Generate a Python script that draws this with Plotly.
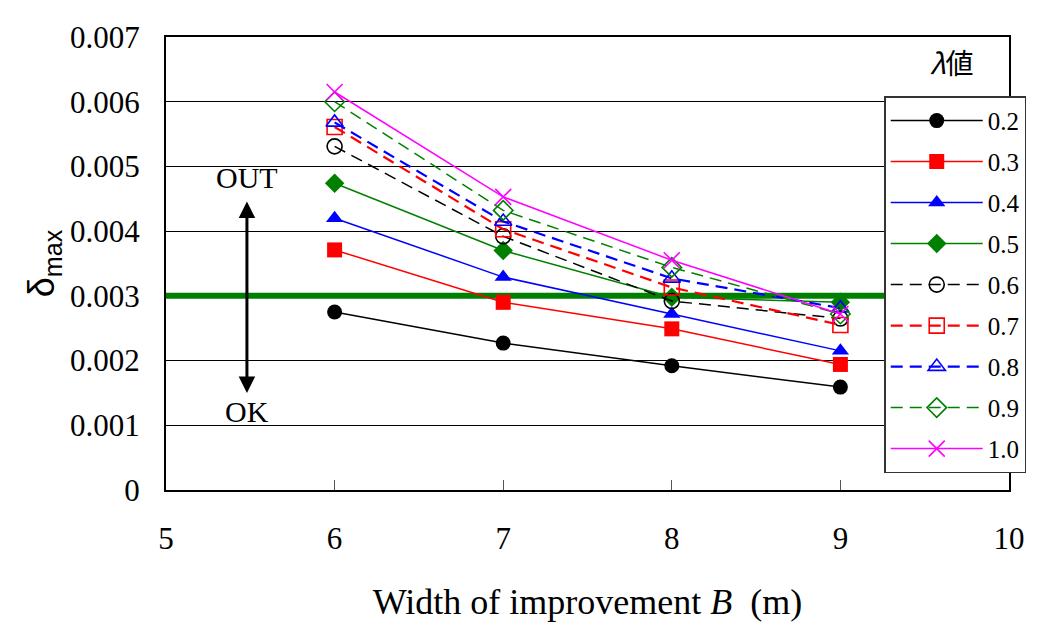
import plotly.graph_objects as go

B = [6, 7, 8, 9]
lam_labels = ["0.2", "0.3", "0.4", "0.5", "0.6", "0.7", "0.8", "0.9", "1.0"]
d02 = [0.00275, 0.00227, 0.00192, 0.00159]
d03 = [0.00371, 0.00290, 0.00249, 0.00194]
d04 = [0.00420, 0.00329, 0.00272, 0.00215]
d05 = [0.00474, 0.00370, 0.00298, 0.00290]
d06 = [0.00531, 0.00392, 0.00292, 0.00265]
d07 = [0.00561, 0.00403, 0.00313, 0.00255]
d08 = [0.00568, 0.00415, 0.00327, 0.00281]
d09 = [0.00600, 0.00432, 0.00344, 0.00272]
d10 = [0.00615, 0.00453, 0.00355, 0.00272]
series = [d02, d03, d04, d05, d06, d07, d08, d09, d10]
limit_value = 0.003

colors = ["#000000", "#FF0000", "#0000FF", "#008000", "#000000", "#FF0000", "#0000FF", "#008000", "#FF00FF"]
symbols = ["circle", "square", "triangle-up", "diamond", "circle-open", "square-open",
           "triangle-up-open", "diamond-open", "x-thin-open"]
dashes = ["solid"] * 4 + ["12px,7px"] * 4 + ["solid"]
widths = [1.5, 1.5, 1.5, 1.5, 1.5, 2.2, 2.2, 1.5, 1.5]

fig = go.Figure()

# threshold line
fig.add_trace(go.Scatter(x=[5, 10], y=[limit_value, limit_value], mode="lines",
                         line=dict(color="#008000", width=6), showlegend=False, hoverinfo="skip"))

for i, (lab, ys) in enumerate(zip(lam_labels, series)):
    sym = symbols[i]
    is_open = "open" in sym
    size = 16 if "x" in sym else 15
    fig.add_trace(go.Scatter(
        x=B, y=ys, mode="lines+markers", name=lab, legendgroup=lab,
        line=dict(color=colors[i], width=widths[i], dash=dashes[i]),
        marker=dict(symbol=sym, size=size, color=colors[i],
                    line=dict(color=colors[i], width=1.6 if is_open else 0)),
    ))

fig.update_layout(
    width=1030, height=619,
    margin=dict(l=158, r=25, t=18, b=136),
    plot_bgcolor="white", paper_bgcolor="white",
    font=dict(family="Liberation Serif", size=26, color="black"),
    showlegend=True,
    legend=dict(x=0.852, y=0.869, xanchor="left", yanchor="top",
                bgcolor="white", bordercolor="#333333", borderwidth=1.5,
                font=dict(family="Liberation Serif", size=25),
                traceorder="grouped", tracegroupgap=5.5, itemwidth=92),
    xaxis=dict(range=[5, 10], tickvals=[5, 6, 7, 8, 9, 10], showgrid=False,
               showline=True, linecolor="black", linewidth=2, mirror=True,
               ticks="inside", ticklen=10, tickcolor="#555555",
               tickfont=dict(family="Liberation Serif", size=31), ticklabelstandoff=20,
               title=dict(text="Width of improvement <i>B</i>  (m)",
                          font=dict(family="Liberation Serif", size=36), standoff=34),
               zeroline=False),
    yaxis=dict(range=[0, 0.007], tickvals=[0, 0.001, 0.002, 0.003, 0.004, 0.005, 0.006, 0.007],
               ticktext=["0", "0.001", "0.002", "0.003", "0.004", "0.005", "0.006", "0.007"],
               showgrid=True, gridcolor="black", gridwidth=1,
               showline=True, linecolor="black", linewidth=2, mirror=True,
               ticks="", tickfont=dict(family="Liberation Serif", size=31), ticklabelstandoff=18,
               title=dict(text="δ<sub>max</sub>", font=dict(family="Liberation Sans", size=36), standoff=4),
               zeroline=False),
)

fig.add_annotation(x=5.48, y=0.00150, ax=5.48, ay=0.00448, xref="x", yref="y", axref="x", ayref="y",
                   text="", showarrow=True, arrowhead=2, startarrowhead=2, arrowside="end+start",
                   arrowwidth=3, arrowsize=1.1, startarrowsize=1.1, arrowcolor="black")
fig.add_annotation(x=5.48, y=0.00483, xref="x", yref="y", text="OUT", showarrow=False,
                   xanchor="center", yanchor="middle",
                   font=dict(family="Liberation Serif", size=30))
fig.add_annotation(x=5.48, y=0.00122, xref="x", yref="y", text="OK", showarrow=False,
                   xanchor="center", yanchor="middle",
                   font=dict(family="Liberation Serif", size=30))
fig.add_annotation(x=0.932, y=0.944, xref="paper", yref="paper", text="<i>λ</i>値", showarrow=False,
                   xanchor="center", yanchor="middle",
                   font=dict(family="Noto Sans CJK JP", size=28))

fig.write_html("out.html")
